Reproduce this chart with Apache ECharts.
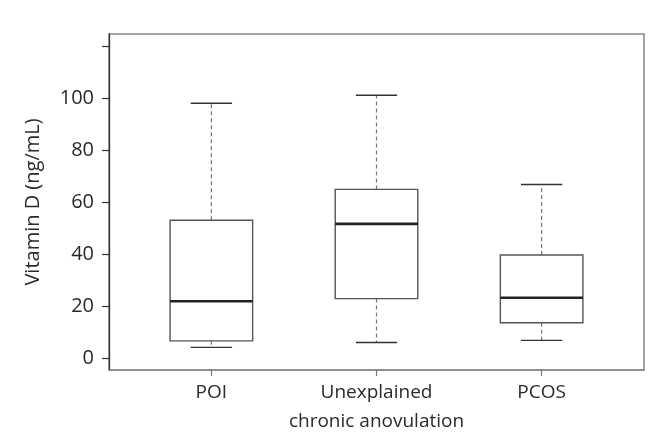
<!DOCTYPE html>
<html>
<head>
<meta charset="utf-8">
<script src="https://cdn.jsdelivr.net/npm/echarts@6/dist/echarts.min.js"></script>
<style>html,body{margin:0;padding:0;background:#fff;}#c{width:668px;height:440px;}</style>
</head>
<body>
<div id="c"></div>
<script>
const categories = ['POI', 'Unexplained\nchronic anovulation', 'PCOS'];
const lowerWhisker = [4.1, 6.0, 6.8];
const q1 = [6.6, 22.9, 13.6];
const median = [21.9, 51.7, 23.2];
const q3 = [53.1, 65.0, 39.7];
const upperWhisker = [98.2, 101.3, 66.9];
const yTickValues = [0, 20, 40, 60, 80, 100, 120];
const yLabelValues = [0, 20, 40, 60, 80, 100];
const xPositions = [1, 2, 3];

const data = categories.map((c, i) => [xPositions[i], lowerWhisker[i], q1[i], median[i], q3[i], upperWhisker[i]]);

const FONT = '"Open Sans", "Noto Sans", sans-serif';
const chart = echarts.init(document.getElementById('c'), null, {renderer: 'canvas'});

function renderItem(params, api) {
  const x = api.value(0);
  const lw = api.value(1), a = api.value(2), m = api.value(3), b = api.value(4), uw = api.value(5);
  const boxHalf = 0.25, capHalf = 0.125;
  const pL = api.coord([x - boxHalf, b]);
  const pR = api.coord([x + boxHalf, a]);
  const c = api.coord([x, m]);
  const cl = api.coord([x - capHalf, uw]);
  const cr = api.coord([x + capHalf, uw]);
  const ll = api.coord([x - capHalf, lw]);
  const lr = api.coord([x + capHalf, lw]);
  const q3p = api.coord([x, b]);
  const q1p = api.coord([x, a]);
  const mL = api.coord([x - boxHalf, m]);
  const mR = api.coord([x + boxHalf, m]);
  return {
    type: 'group',
    children: [
      {type: 'line', shape: {x1: c[0], y1: q3p[1], x2: c[0], y2: cl[1]}, style: {stroke: '#777', lineWidth: 1.2, lineDash: [4, 3]}},
      {type: 'line', shape: {x1: c[0], y1: q1p[1], x2: c[0], y2: ll[1]}, style: {stroke: '#777', lineWidth: 1.2, lineDash: [4, 3]}},
      {type: 'line', shape: {x1: cl[0], y1: cl[1], x2: cr[0], y2: cr[1]}, style: {stroke: '#333', lineWidth: 1.4}},
      {type: 'line', shape: {x1: ll[0], y1: ll[1], x2: lr[0], y2: lr[1]}, style: {stroke: '#333', lineWidth: 1.4}},
      {type: 'rect', shape: {x: pL[0], y: pL[1], width: pR[0] - pL[0], height: pR[1] - pL[1]}, style: {stroke: '#555', fill: '#fff', lineWidth: 1.4}},
      {type: 'line', shape: {x1: mL[0], y1: mL[1], x2: mR[0], y2: mR[1]}, style: {stroke: '#222', lineWidth: 2.6}}
    ]
  };
}

chart.setOption({
  animation: false,
  backgroundColor: '#fff',
  grid: {left: 109, right: 24, top: 34, bottom: 70, show: true, borderColor: '#888', borderWidth: 1.5, backgroundColor: 'transparent'},
  xAxis: {
    type: 'value', min: 0.38, max: 3.62,
    splitLine: {show: false},
    axisLine: {show: true, onZero: false, lineStyle: {color: '#888', width: 1.5}},
    axisTick: {show: true, customValues: xPositions, length: 6, lineStyle: {color: '#777', width: 1.2}},
    axisLabel: {customValues: xPositions, formatter: v => categories[Math.round(v) - 1], color: '#2a2a2a', fontFamily: FONT, fontSize: 19, lineHeight: 29, margin: 8}
  },
  yAxis: {
    type: 'value', min: -4.63, max: 124.9,
    name: 'Vitamin D (ng/mL)', nameLocation: 'middle', nameGap: 66,
    nameTextStyle: {color: '#2a2a2a', fontFamily: FONT, fontSize: 20},
    splitLine: {show: false},
    axisLine: {show: true, onZero: false, lineStyle: {color: '#333', width: 1.3}},
    axisTick: {show: true, customValues: yTickValues, length: 7, lineStyle: {color: '#333', width: 1.2}},
    axisLabel: {customValues: yLabelValues, color: '#2a2a2a', fontFamily: FONT, fontSize: 20, margin: 15}
  },
  series: [{
    type: 'custom',
    renderItem: renderItem,
    data: data,
    encode: {x: 0, y: [1, 2, 3, 4, 5]},
    clip: false
  }]
});
</script>
</body>
</html>
